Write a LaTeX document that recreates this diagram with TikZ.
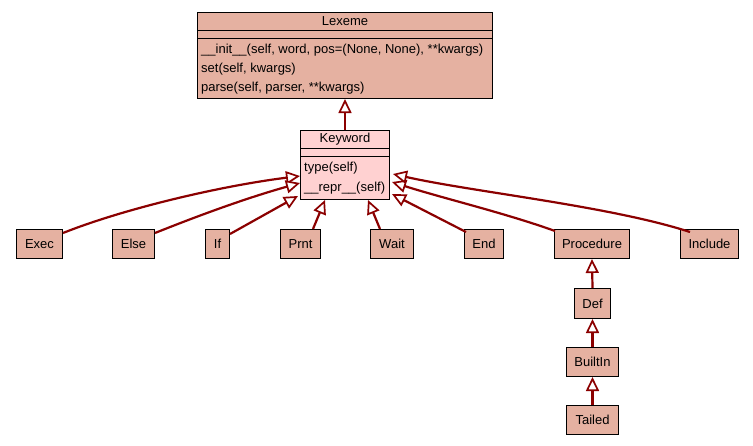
\documentclass[tikz,border=0pt]{standalone}
\usepackage{fontspec}
\setmainfont{Liberation Sans}
\usetikzlibrary{arrows.meta}
\definecolor{edgered}{RGB}{139,0,0}
\definecolor{classfill}{RGB}{229,177,161}
\definecolor{kwfill}{RGB}{255,209,209}
\begin{document}
\begin{tikzpicture}[x=1pt,y=-1pt,
  box/.style={draw=black, line width=1pt, fill=classfill, inner sep=0pt,
    anchor=north west, font=\fontsize{13}{15}\selectfont},
  lbl/.style={inner sep=0pt, font=\fontsize{13}{15}\selectfont},
  sep/.style={draw=black, line width=1pt},
  inherit/.style={draw=edgered, line width=2.2pt,
    -{Triangle[open, length=14pt, width=13pt, line width=1.7pt, fill=white]}}]
\useasboundingbox[fill=white] (0,0) rectangle (753,445);

% base class
\node[box, minimum width=295, minimum height=86] (lexeme) at (197,12) {};
\draw[sep] ([yshift=-18pt]lexeme.north west) -- ([yshift=-18pt]lexeme.north east);
\draw[sep] ([yshift=-26pt]lexeme.north west) -- ([yshift=-26pt]lexeme.north east);
\node[lbl] (lexemetitle) at ([yshift=-9.5pt]lexeme.north) {Lexeme};
\node[lbl, anchor=west] (m1) at ([xshift=4pt,yshift=-38pt]lexeme.north west) {\_\_init\_\_(self, word, pos=(None, None), **kwargs)};
\node[lbl, anchor=west] (m2) at ([xshift=4pt,yshift=-57.5pt]lexeme.north west) {set(self, kwargs)};
\node[lbl, anchor=west] (m3) at ([xshift=4pt,yshift=-76.5pt]lexeme.north west) {parse(self, parser, **kwargs)};

% keyword class
\node[box, fill=kwfill, minimum width=89, minimum height=69] (keyword) at (300,130) {};
\draw[sep] ([yshift=-18pt]keyword.north west) -- ([yshift=-18pt]keyword.north east);
\draw[sep] ([yshift=-26pt]keyword.north west) -- ([yshift=-26pt]keyword.north east);
\node[lbl] (kwtitle) at ([yshift=-9.5pt]keyword.north) {Keyword};
\node[lbl, anchor=west] (k1) at ([xshift=4pt,yshift=-38pt]keyword.north west) {type(self)};
\node[lbl, anchor=west] (k2) at ([xshift=4pt,yshift=-58pt]keyword.north west) {\_\_repr\_\_(self)};

% subclasses
\node[box, minimum width=46, minimum height=29] (exec) at (16,229) {Exec};
\node[box, minimum width=42, minimum height=29] (else) at (112,229) {Else};
\node[box, minimum width=24, minimum height=29] (if) at (205,229) {If};
\node[box, minimum width=40, minimum height=29] (prnt) at (280,229) {Prnt};
\node[box, minimum width=43, minimum height=29] (wait) at (370,229) {Wait};
\node[box, minimum width=39, minimum height=29] (end) at (464,229) {End};
\node[box, minimum width=75, minimum height=29] (procedure) at (554,229) {Procedure};
\node[box, minimum width=58, minimum height=29] (include) at (680,229) {Include};
\node[box, minimum width=36, minimum height=30] (def) at (574,288) {Def};
\node[box, minimum width=52, minimum height=29] (builtin) at (566,347) {BuiltIn};
\node[box, minimum width=52, minimum height=29] (tailed) at (566,405) {Tailed};

% inheritance
\draw[inherit] (keyword.north) -- (lexeme.south);
\draw[inherit] ([yshift=-4pt]exec.north east) .. controls +(60,-24) and +(-80,10) .. ([yshift=-11pt]keyword.west);
\draw[inherit] ([yshift=-4pt]else.north east) .. controls +(50,-20) and +(-50,14) .. ([yshift=-18pt]keyword.west);
\draw[inherit] ([yshift=-5pt]if.north east) -- ([xshift=-2pt,yshift=4pt]keyword.south west);
\draw[inherit] ([xshift=-8pt]prnt.north east) -- ([xshift=25pt]keyword.south west);
\draw[inherit] ([xshift=10pt]wait.north west) -- ([xshift=-22pt]keyword.south east);
\draw[inherit] ([xshift=2pt,yshift=-3pt]end.north west) -- ([xshift=2pt,yshift=6pt]keyword.south east);
\draw[inherit] ([xshift=1pt,yshift=-2pt]procedure.north west) .. controls +(-50,-18) and +(50,16) .. ([xshift=2pt,yshift=-17pt]keyword.east);
\draw[inherit] ([xshift=10pt,yshift=-3pt]include.north west) .. controls +(-80,-26) and +(80,18) .. ([xshift=3pt,yshift=-9pt]keyword.east);
\draw[inherit] (def.north) -- (procedure.south);
\draw[inherit] (builtin.north) -- (def.south);
\draw[inherit] (tailed.north) -- (builtin.south);
\end{tikzpicture}
\end{document}
